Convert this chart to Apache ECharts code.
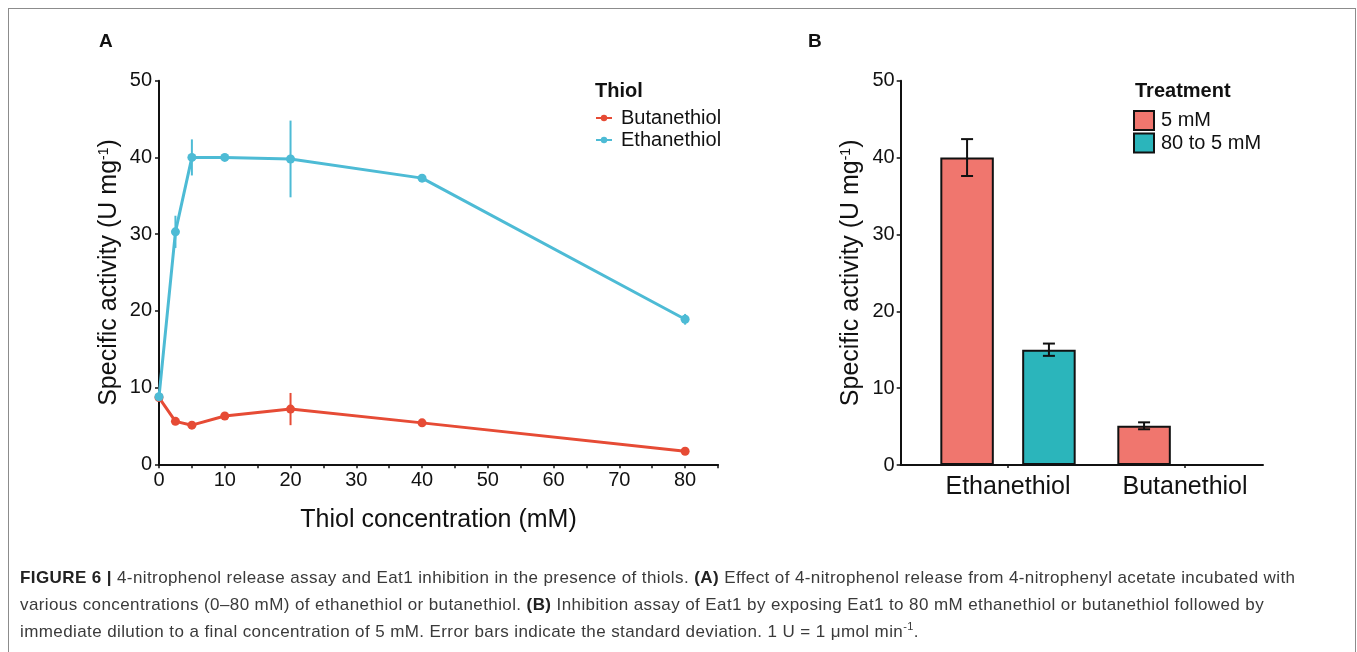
<!DOCTYPE html>
<html>
<head>
<meta charset="utf-8">
<script src="https://cdn.jsdelivr.net/npm/echarts@6/dist/echarts.min.js"></script>
<style>
  html, body { margin: 0; padding: 0; background: #fff; }
  #wrap { position: relative; width: 1357px; height: 652px; overflow: hidden; }
  #frame { position: absolute; left: 8px; top: 8px; width: 1346px; height: 660px; border: 1px solid #8c8c8c; }
  #main { position: absolute; left: 0; top: 0; width: 1357px; height: 652px; }
  #caption { position: absolute; left: 20px; top: 564px; font-family: "Liberation Sans", Arial, sans-serif;
    font-size: 17px; letter-spacing: 0.4px; line-height: 27px; color: #3a3a3a; white-space: nowrap; }
  #caption b { color: #222; }
  #caption sup { font-size: 11px; line-height: 0; }
</style>
</head>
<body>
<div id="wrap">
  <div id="frame"></div>
  <div id="main"></div>
  <div id="caption">
    <b>FIGURE 6 |</b> 4-nitrophenol release assay and Eat1 inhibition in the presence of thiols. <b>(A)</b> Effect of 4-nitrophenol release from 4-nitrophenyl acetate incubated with<br>
    various concentrations (0–80 mM) of ethanethiol or butanethiol. <b>(B)</b> Inhibition assay of Eat1 by exposing Eat1 to 80 mM ethanethiol or butanethiol followed by<br>
    immediate dilution to a final concentration of 5 mM. Error bars indicate the standard deviation. 1 U = 1 μmol min<sup>-1</sup>.
  </div>
</div>
<script>
// panel A: activity vs thiol concentration
var concentrations = [0, 2.5, 5, 10, 20, 40, 80];
var butanethiol = [8.7, 5.6, 5.1, 6.3, 7.2, 5.4, 1.7];
var butanethiolSd = [0.3, 0.3, 0.3, 0.3, 2.1, 0.2, 0.2];
var ethanethiol = [8.8, 30.3, 40.0, 40.0, 39.8, 37.3, 18.9];
var ethanethiolSd = [0.3, 2.1, 2.35, 0.3, 5.0, 0.3, 0.7];

// panel B: inhibition assay
var thiols = ['Ethanethiol', 'Butanethiol'];
var treatments = ['5 mM', '80 to 5 mM'];
var activity5 = [40.0, 5.1];
var activity5Sd = [2.4, 0.45];
var activity80 = [15.0, '-'];
var activity80Sd = [0.8, '-'];

var FONT = '"Liberation Sans", Arial, sans-serif';
var RED = '#E64B35', CYAN = '#4DBBD5';
var PINK = '#F0766E', TEAL = '#2BB5BB';

var myChart = echarts.init(document.getElementById('main'));

function pairs(xs, ys, sds) {
  return xs.map(function (x, i) { return [x, ys[i], sds[i]]; });
}

function vErr(color) {
  return function (params, api) {
    var x = api.value(0), v = api.value(1), e = api.value(2);
    var lo = api.coord([x, v - e]), hi = api.coord([x, v + e]);
    return {
      type: 'line',
      shape: { x1: lo[0], y1: lo[1], x2: hi[0], y2: hi[1] },
      style: { stroke: color, lineWidth: 2 }
    };
  };
}

var BAR_W = 53.5, BAR_GAP = '53%';

function barErr(params, api) {
  var cat = api.value(0), v = api.value(1), e = api.value(2), idx = api.value(3);
  var lay = api.barLayout({ barWidth: BAR_W, barGap: BAR_GAP, count: 2 });
  var c = api.coord([cat, v]);
  var x = c[0] + lay[idx].offsetCenter;
  var y1 = api.coord([cat, v - e])[1], y2 = api.coord([cat, v + e])[1];
  var cw = 6;
  var st = { stroke: '#111', lineWidth: 2 };
  return {
    type: 'group',
    children: [
      { type: 'line', shape: { x1: x, y1: y1, x2: x, y2: y2 }, style: st },
      { type: 'line', shape: { x1: x - cw, y1: y1, x2: x + cw, y2: y1 }, style: st },
      { type: 'line', shape: { x1: x - cw, y1: y2, x2: x + cw, y2: y2 }, style: st }
    ]
  };
}

var barErrData = [];
activity5.forEach(function (v, i) { barErrData.push([i, v, activity5Sd[i], 0]); });
activity80.forEach(function (v, i) { if (v !== '-') barErrData.push([i, v, activity80Sd[i], 1]); });

var axisLine = { show: true, lineStyle: { color: '#111', width: 2 } };
var tick = { show: true, length: 4, lineStyle: { color: '#111', width: 1.5 } };

myChart.setOption({
  animation: false,
  textStyle: { fontFamily: FONT },
  graphic: [
    { type: 'text', left: 99, top: 32, style: { text: 'A', font: 'bold 19px ' + FONT, fill: '#111' } },
    { type: 'text', left: 808, top: 32, style: { text: 'B', font: 'bold 19px ' + FONT, fill: '#111' } },
    { type: 'text', left: 595, top: 81, style: { text: 'Thiol', font: 'bold 20px ' + FONT, fill: '#111' } },
    { type: 'text', left: 1135, top: 81, style: { text: 'Treatment', font: 'bold 20px ' + FONT, fill: '#111' } }
  ],
  legend: [{
    data: ['Butanethiol', 'Ethanethiol'],
    orient: 'vertical', left: 595, top: 108, padding: 0,
    itemWidth: 16, itemHeight: 8, itemGap: 2,
    textStyle: { fontSize: 20, color: '#111', padding: [0, 0, 0, 4] }
  }, {
    data: treatments,
    orient: 'vertical', left: 1133, top: 110, padding: 0,
    icon: 'rect', itemWidth: 20, itemHeight: 19, itemGap: 1.5,
    textStyle: { fontSize: 20, color: '#111', padding: [0, 0, 0, 2] }
  }],
  grid: [
    { left: 159, top: 80.7, width: 559, height: 383.6 },
    { left: 919.5, top: 80.7, width: 354, height: 384.3 },
    { left: 900.7, top: 80.7, width: 362.3, height: 384.3 }
  ],
  xAxis: [{
    gridIndex: 0, type: 'value', min: 0, max: 85, interval: 5,
    axisLine: axisLine, axisTick: tick, splitLine: { show: false },
    axisLabel: {
      fontSize: 20, color: '#111', margin: 6, showMaxLabel: true,
      formatter: function (v) { return v % 10 === 0 ? v : ''; }
    },
    name: 'Thiol concentration (mM)', nameLocation: 'middle', nameGap: 43,
    nameTextStyle: { fontSize: 25, color: '#111' }
  }, {
    gridIndex: 1, type: 'category', data: thiols,
    axisLine: { show: false }, axisTick: { show: true, alignWithLabel: true, length: 3, lineStyle: { color: '#111', width: 1.5 } },
    axisLabel: { fontSize: 25, color: '#111', margin: 10 }
  }, {
    gridIndex: 2, type: 'value', min: 0, max: 1,
    axisLine: axisLine, axisTick: { show: false }, axisLabel: { show: false }, splitLine: { show: false }
  }],
  yAxis: [{
    gridIndex: 0, type: 'value', min: 0, max: 50, interval: 10,
    axisLine: axisLine, axisTick: tick, splitLine: { show: false },
    axisLabel: { fontSize: 20, color: '#111', margin: 7 },
    name: 'Specific activity (U mg{sup|-1})', nameLocation: 'middle', nameGap: 37,
    nameTextStyle: { fontSize: 25, color: '#111', rich: { sup: { fontSize: 14, color: '#111', verticalAlign: 'top' } } }
  }, {
    gridIndex: 1, type: 'value', min: 0, max: 50, interval: 10, show: false
  }, {
    gridIndex: 2, type: 'value', min: 0, max: 50, interval: 10,
    axisLine: axisLine, axisTick: tick, splitLine: { show: false },
    axisLabel: { fontSize: 20, color: '#111', margin: 6 },
    name: 'Specific activity (U mg{sup|-1})', nameLocation: 'middle', nameGap: 37,
    nameTextStyle: { fontSize: 25, color: '#111', rich: { sup: { fontSize: 14, color: '#111', verticalAlign: 'top' } } }
  }],
  series: [{
    name: 'butErr', type: 'custom', xAxisIndex: 0, yAxisIndex: 0,
    data: pairs(concentrations, butanethiol, butanethiolSd), renderItem: vErr(RED), z: 2
  }, {
    name: 'Butanethiol', type: 'line', xAxisIndex: 0, yAxisIndex: 0,
    data: concentrations.map(function (c, i) { return [c, butanethiol[i]]; }),
    color: RED, lineStyle: { width: 3 }, symbol: 'circle', symbolSize: 9, z: 3
  }, {
    name: 'ethErr', type: 'custom', xAxisIndex: 0, yAxisIndex: 0,
    data: pairs(concentrations, ethanethiol, ethanethiolSd), renderItem: vErr(CYAN), z: 4
  }, {
    name: 'Ethanethiol', type: 'line', xAxisIndex: 0, yAxisIndex: 0,
    data: concentrations.map(function (c, i) { return [c, ethanethiol[i]]; }),
    color: CYAN, lineStyle: { width: 3 }, symbol: 'circle', symbolSize: 9, z: 5
  }, {
    name: '5 mM', type: 'bar', xAxisIndex: 1, yAxisIndex: 1, data: activity5,
    barWidth: BAR_W, barGap: BAR_GAP,
    itemStyle: { color: PINK, borderColor: '#111', borderWidth: 2 }, z: 3
  }, {
    name: '80 to 5 mM', type: 'bar', xAxisIndex: 1, yAxisIndex: 1, data: activity80,
    barWidth: BAR_W, barGap: BAR_GAP,
    itemStyle: { color: TEAL, borderColor: '#111', borderWidth: 2 }, z: 3
  }, {
    name: 'barErr', type: 'custom', xAxisIndex: 1, yAxisIndex: 1,
    data: barErrData, renderItem: barErr, z: 6
  }]
});
</script>
</body>
</html>
